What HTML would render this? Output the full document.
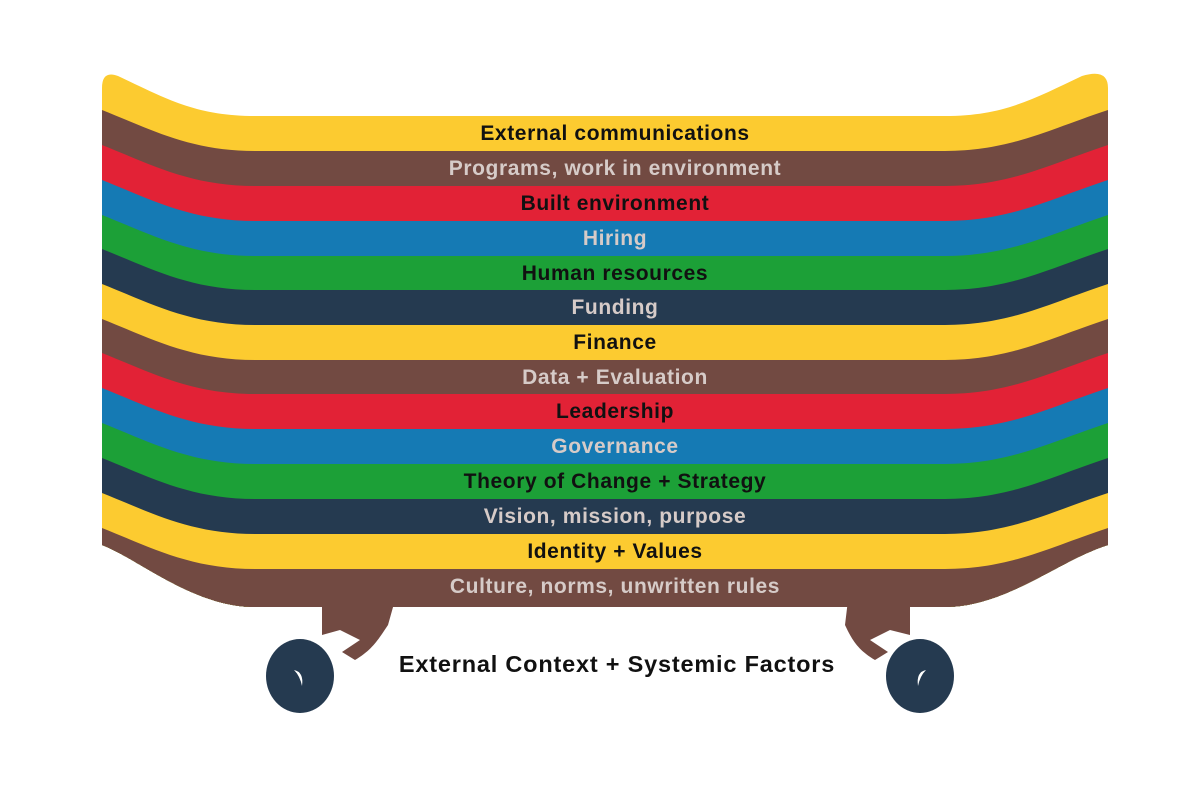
<!DOCTYPE html>
<html><head><meta charset="utf-8"><style>
html,body{margin:0;padding:0;background:#fff;width:1200px;height:800px;overflow:hidden}
svg{display:block}
text{font-family:"Liberation Sans",Arial,sans-serif;font-weight:bold;font-size:21px;letter-spacing:0.6px;text-anchor:middle}
.d{fill:#111}.l{fill:#d6cbc8}
</style></head><body>
<svg width="1200" height="800" viewBox="0 0 1200 800">
<defs>
<clipPath id="c"><path d="M102,88 Q102,70 118,76 C165,98 195,116 255,116 L945,116 C1005,116 1035,98 1082,76 Q1108,68 1108,88 L1108,545 C1060,560 1010,604 950,607 L250,607 C190,604 140,560 102,545 Z"/></clipPath>
</defs>
<g clip-path="url(#c)" id="bands"></g>
<g fill="#724A42">
<path d="M322,600 L395,600 L388,625 C378,640 372,650 355,660 L342,652 L360,640 L340,630 L322,635 Z"/>
<path d="M878,600 L910,600 L910,635 L890,630 L870,640 L888,652 L875,660 C858,650 852,640 845,625 L848,600 Z"/>
</g>
<ellipse cx="300" cy="676" rx="34" ry="37" fill="#253A50"/>
<ellipse cx="920" cy="676" rx="34" ry="37" fill="#253A50"/>
<path d="M294,670 Q304,672 302,686 Q300,676 294,670Z" fill="#fff"/>
<path d="M926,670 Q916,672 918,686 Q920,676 926,670Z" fill="#fff"/>
<text x="617" y="672" class="d" style="font-size:23.5px;letter-spacing:0.8px">External Context + Systemic Factors</text>
<g id="labels"></g>
</svg>
<script>
var cols=["#FCCB30","#724A42","#E22236","#157AB4","#1CA037","#253A50","#FCCB30","#724A42","#E22236","#157AB4","#1CA037","#253A50","#FCCB30","#724A42"];
var mids=[116,151,186,221,256,290,325,360,394,429,464,499,534,569];
var labels=["External communications","Programs, work in environment","Built environment","Hiring","Human resources","Funding","Finance","Data + Evaluation","Leadership","Governance","Theory of Change + Strategy","Vision, mission, purpose","Identity + Values","Culture, norms, unwritten rules"];
var g=document.getElementById('bands'),L=document.getElementById('labels'),ns="http://www.w3.org/2000/svg";
for(var i=0;i<14;i++){
 var m=mids[i],t=m;
 var p=document.createElementNS(ns,'path');
 p.setAttribute('d','M90,'+(t-41)+' L102,'+(m-41)+' C150,'+(m-22)+' 190,'+m+' 255,'+m+' L945,'+m+' C1010,'+m+' 1050,'+(m-22)+' 1108,'+(m-41)+' L1120,'+(t-41)+' L1120,800 L90,800 Z');
 if(i==0)p.setAttribute('d','M90,0 L1120,0 L1120,800 L90,800Z');
 p.setAttribute('fill',cols[i]);g.appendChild(p);
 var tx=document.createElementNS(ns,'text');
 tx.setAttribute('x',615);tx.setAttribute('y',m+24);
 var light=[1,3,5,7,9,11,13].indexOf(i)>=0;
 tx.setAttribute('class',light?'l':'d');tx.textContent=labels[i];L.appendChild(tx);
}
</script>
</body></html>
